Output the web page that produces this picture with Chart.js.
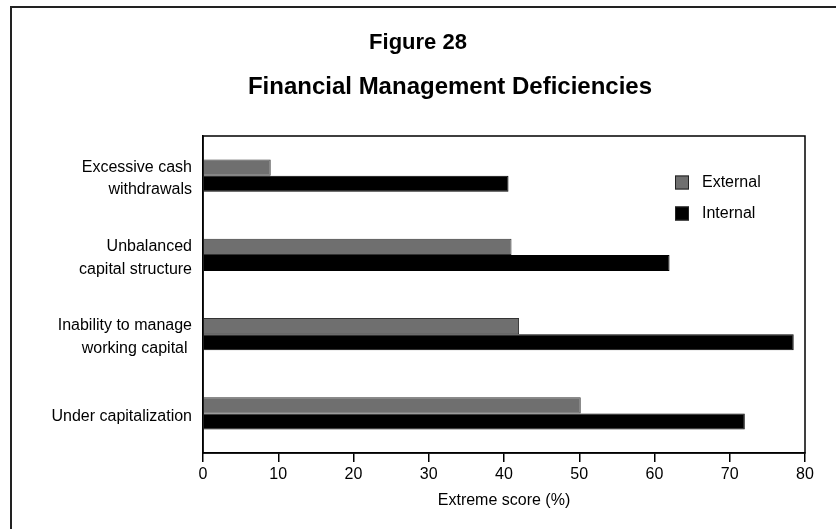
<!DOCTYPE html>
<html lang="en">
<head>
    <meta charset="UTF-8">
    <title>Figure 28: Financial Management Deficiencies</title>
    <script src="https://cdn.jsdelivr.net/npm/chart.js"></script>
    <style>
        body { margin: 0; background: #fff; font-family: 'Liberation Sans', Arial, sans-serif; }
        .frame { position: relative; width: 836px; height: 529px; overflow: hidden; }
        /* outer box of the figure, runs off the right and bottom edge */
        .frame .box { position: absolute; left: 10px; top: 6px; width: 900px; height: 600px; border: 2px solid #222; }
        .frame canvas { position: absolute; left: 0; top: 0; }
        .heading { position: absolute; transform: translateX(-50%); white-space: nowrap; font-weight: bold; line-height: 24px; color: #000; margin: 0; }
        .fig-no { left: 418px; top: 30px; font-size: 22px; }
        .fig-title { left: 450px; top: 74px; font-size: 24px; }
    </style>
</head>
<body>
<div class="frame">
    <div class="box"></div>
    <canvas id="chart" width="836" height="529"></canvas>
    <h1 class="heading fig-no">Figure 28</h1>
    <h2 class="heading fig-title">Financial Management Deficiencies</h2>
</div>

<script>
    // data
    const categories = [
        ['Excessive cash', 'withdrawals'],
        ['Unbalanced', 'capital structure'],
        ['Inability to manage', 'working capital '],
        ['Under capitalization']
    ];
    const externalScores = [9, 41, 42, 50.2];
    const internalScores = [40.6, 62, 78.5, 72];
    const xTicks = [0, 10, 20, 30, 40, 50, 60, 70, 80];

    const FONT = "'Liberation Sans', Arial, sans-serif";

    // box round the plot area and the legend in the top right corner
    const plotFrame = {
        id: 'plotFrame',
        afterDatasetsDraw(chart) {
            const { ctx, chartArea: a } = chart;
            ctx.save();
            ctx.strokeStyle = '#000';
            ctx.lineWidth = 1.5;
            ctx.strokeRect(a.left, a.top, a.right - a.left, a.bottom - a.top);

            ctx.font = '16px ' + FONT;
            ctx.textBaseline = 'middle';
            chart.data.datasets.forEach((ds, i) => {
                const y = a.top + 46 + i * 31;
                const x = a.right - 130;
                ctx.fillStyle = ds.backgroundColor;
                ctx.fillRect(x, y - 6.5, 14, 14);
                ctx.lineWidth = 1;
                ctx.strokeStyle = '#222';
                ctx.strokeRect(x + 0.5, y - 6, 13, 13);
                ctx.fillStyle = '#000';
                ctx.fillText(ds.label, x + 27, y + 1);
            });
            ctx.restore();
        }
    };

    new Chart(document.getElementById('chart'), {
        type: 'bar',
        data: {
            labels: categories,
            datasets: [
                {
                    label: 'External',
                    data: externalScores,
                    backgroundColor: '#6f6f6f',
                    borderColor: '#333',
                    borderWidth: 1,
                    barPercentage: 1,
                    categoryPercentage: 0.41
                },
                {
                    label: 'Internal',
                    data: internalScores,
                    backgroundColor: '#000',
                    borderColor: '#000',
                    borderWidth: 1,
                    barPercentage: 1,
                    categoryPercentage: 0.41
                }
            ]
        },
        options: {
            indexAxis: 'y',
            responsive: false,
            animation: false,
            layout: { padding: { left: 10, right: 31, top: 136, bottom: 0 } },
            plugins: {
                legend: { display: false },
                tooltip: { enabled: false }
            },
            scales: {
                x: {
                    min: 0,
                    max: 80,
                    afterBuildTicks(scale) { scale.ticks = xTicks.map(v => ({ value: v })); },
                    afterFit(scale) { scale.height = 76; },
                    grid: { drawOnChartArea: false, drawTicks: true, tickLength: 9, color: '#000', lineWidth: 1.5 },
                    border: { display: true, color: '#000', width: 1.5 },
                    ticks: { color: '#000', font: { family: FONT, size: 16 }, padding: 3 },
                    title: {
                        display: true,
                        text: 'Extreme score (%)',
                        color: '#000',
                        font: { family: FONT, size: 16 },
                        padding: { top: 2, bottom: 19 }
                    }
                },
                y: {
                    afterFit(scale) { scale.width = 193; },
                    grid: { display: false, drawTicks: false },
                    border: { display: true, color: '#000', width: 1.5 },
                    ticks: { color: '#000', font: { family: FONT, size: 16, lineHeight: 1.42 }, padding: 11, labelOffset: 3 }
                }
            }
        },
        plugins: [plotFrame]
    });
</script>
</body>
</html>
